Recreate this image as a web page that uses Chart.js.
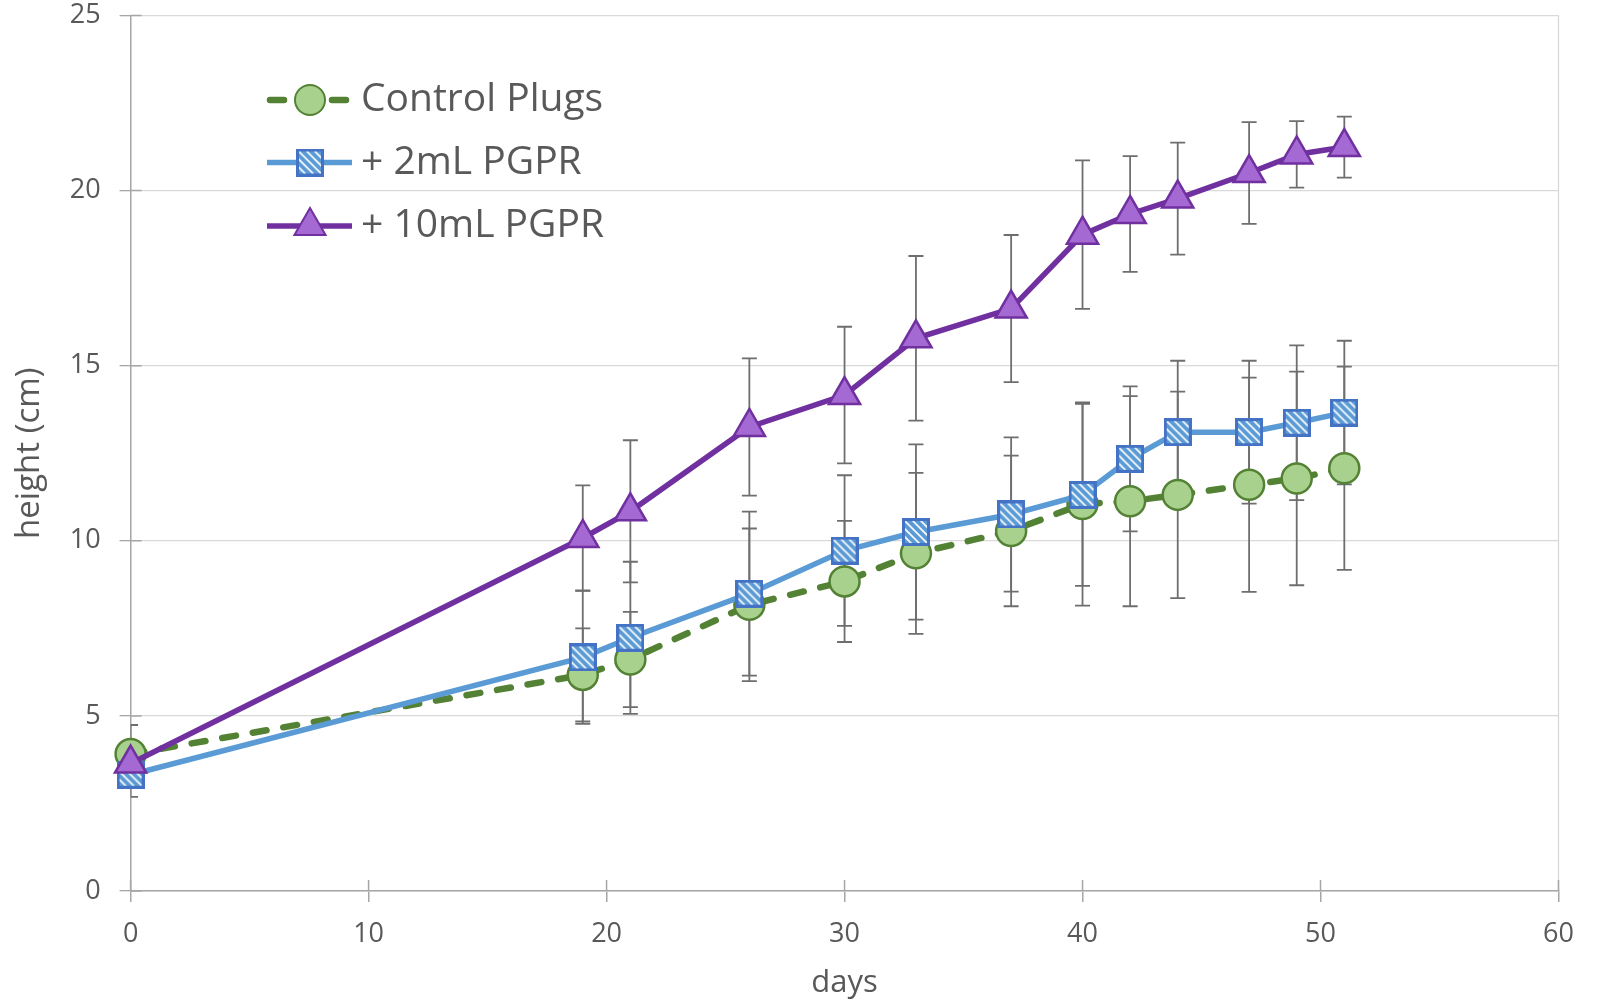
<!DOCTYPE html>
<html>
<head>
<meta charset="utf-8">
<script src="https://cdn.jsdelivr.net/npm/chart.js@4/dist/chart.umd.min.js"></script>
<style>
  html, body { margin: 0; padding: 0; background: #fff; }
  #wrap { width: 1613px; height: 1008px; }
</style>
</head>
<body>
<div id="wrap"><canvas id="chart" width="1613" height="1008"></canvas></div>
<script>
// days of measurement
const days = [0, 19, 21, 26, 30, 33, 37, 40, 42, 44, 47, 49, 51];

// mean height (cm)
const controlPlugs = [3.91, 6.17, 6.61, 8.17, 8.84, 9.64, 10.28, 11.05, 11.13, 11.31, 11.60, 11.78, 12.07];
const pgpr2mL = [3.32, 6.67, 7.23, 8.49, 9.72, 10.25, 10.75, 11.31, 12.34, 13.10, 13.10, 13.37, 13.66];
const pgpr10mL = [3.64, 10.08, 10.84, 13.25, 14.16, 15.78, 16.63, 18.74, 19.33, 19.77, 20.50, 21.03, 21.24];

// error bars (+/-)
const controlErr = [0.83, 1.33, 1.36, 2.18, 1.73, 2.30, 2.15, 2.90, 3.00, 2.95, 3.06, 3.05, 2.90];
const pgpr2mLErr = [0.63, 1.90, 2.17, 2.34, 2.15, 2.50, 2.20, 2.60, 2.07, 2.04, 2.04, 2.21, 2.05];
const pgpr10mLErr = [0.50, 1.50, 2.03, 1.96, 1.95, 2.35, 2.10, 2.12, 1.65, 1.60, 1.45, 0.95, 0.87];

const FONT = '"Open Sans", "Noto Sans", sans-serif';
const TEXT = '#595959';

// hatched square marker for the 2mL series
function hatchedSquare() {
    const s = 28;
    const c = document.createElement('canvas');
    c.width = s; c.height = s;
    const g = c.getContext('2d');
    g.fillStyle = '#fff';
    g.fillRect(0, 0, s, s);
    g.save();
    g.beginPath(); g.rect(1, 1, s - 2, s - 2); g.clip();
    g.strokeStyle = '#5B9BD5';
    g.lineWidth = 4;
    for (let k = -s; k < 2 * s; k += 8) {
        g.beginPath(); g.moveTo(k, 0); g.lineTo(k + s, s); g.stroke();
    }
    g.restore();
    g.strokeStyle = '#4472C4';
    g.lineWidth = 3;
    g.strokeRect(1.5, 1.5, s - 3, s - 3);
    return c;
}
const squareImg = hatchedSquare();

const toPoints = (vals) => vals.map((v, i) => ({x: days[i], y: v}));

const series = [
    {label: 'Control Plugs', data: controlPlugs, err: controlErr, line: '#548235', fill: '#A9D18E',
        width: 6.5, dash: [14, 17], style: 'circle', radius: 15},
    {label: '+ 2mL PGPR', data: pgpr2mL, err: pgpr2mLErr, line: '#5B9BD5', fill: '#fff',
        width: 5.5, dash: [], style: squareImg, radius: 14},
    {label: '+ 10mL PGPR', data: pgpr10mL, err: pgpr10mLErr, line: '#7030A0', fill: '#A469D2',
        width: 5.5, dash: [], style: 'triangle', radius: 18}
];

const errorBarsPlugin = {
    id: 'errorBars',
    beforeDatasetsDraw(chart) {
        const {ctx, chartArea, scales: {x, y}} = chart;
        ctx.save();
        ctx.beginPath();
        ctx.rect(chartArea.left, chartArea.top, chartArea.right - chartArea.left, chartArea.bottom - chartArea.top);
        ctx.clip();
        ctx.strokeStyle = '#6E6E6E';
        ctx.lineWidth = 1.8;
        series.forEach((s) => {
            s.data.forEach((v, i) => {
                const px = x.getPixelForValue(days[i]);
                const top = y.getPixelForValue(v + s.err[i]);
                const bot = y.getPixelForValue(v - s.err[i]);
                ctx.beginPath();
                ctx.moveTo(px, top); ctx.lineTo(px, bot);
                ctx.moveTo(px - 7.5, top); ctx.lineTo(px + 7.5, top);
                ctx.moveTo(px - 7.5, bot); ctx.lineTo(px + 7.5, bot);
                ctx.stroke();
            });
        });
        ctx.restore();
    },
    beforeDraw(chart) {
        // plot area right border
        const {ctx, chartArea} = chart;
        ctx.save();
        ctx.strokeStyle = '#D9D9D9';
        ctx.lineWidth = 1.3;
        ctx.beginPath();
        ctx.moveTo(chartArea.right, chartArea.top);
        ctx.lineTo(chartArea.right, chartArea.bottom);
        ctx.stroke();
        ctx.restore();
    },
    afterDraw(chart) {
        const {ctx, chartArea, scales: {x, y}} = chart;
        ctx.save();
        // inner halves of the cross tick marks
        ctx.strokeStyle = '#A6A6A6';
        ctx.lineWidth = 1.5;
        ctx.beginPath();
        x.ticks.forEach((t) => {
            const px = x.getPixelForValue(t.value);
            ctx.moveTo(px, chartArea.bottom); ctx.lineTo(px, chartArea.bottom - 11);
        });
        y.ticks.forEach((t) => {
            const py = y.getPixelForValue(t.value);
            ctx.moveTo(chartArea.left, py); ctx.lineTo(chartArea.left + 11, py);
        });
        ctx.stroke();

        // legend inside the plot
        const rows = [100, 162.5, 226];
        series.forEach((s, i) => {
            const ry = rows[i];
            ctx.strokeStyle = s.line;
            ctx.lineWidth = s.width;
            ctx.setLineDash(s.dash);
            ctx.lineCap = s.dash.length ? 'round' : 'butt';
            ctx.lineDashOffset = -3;
            ctx.beginPath();
            ctx.moveTo(267, ry); ctx.lineTo(352, ry);
            ctx.stroke();
            ctx.setLineDash([]);
            ctx.fillStyle = s.fill;
            ctx.strokeStyle = s.line;
            ctx.lineWidth = 2;
            Chart.helpers.drawPoint(ctx, {pointStyle: s.style, radius: s.radius, rotation: 0, borderWidth: 2}, 310, ry);
            ctx.fillStyle = TEXT;
            ctx.font = '39px ' + FONT;
            ctx.textBaseline = 'middle';
            ctx.textAlign = 'left';
            ctx.fillText(s.label, 361, ry);
        });
        ctx.restore();
    }
};

const datasets = series.map((s, i) => ({
    label: s.label,
    data: toPoints(s.data),
    borderColor: s.line,
    backgroundColor: s.fill,
    borderWidth: s.width,
    borderDash: s.dash,
    borderCapStyle: s.dash.length ? 'round' : 'butt',
    pointStyle: s.style,
    pointRadius: s.radius,
    pointBorderWidth: 2.5,
    pointBorderColor: s.line,
    pointBackgroundColor: s.fill,
    tension: 0,
    clip: false,
    order: 3 - i
}));

new Chart(document.getElementById('chart'), {
    type: 'line',
    data: {datasets},
    options: {
        responsive: false,
        animation: false,
        events: [],
        layout: {autoPadding: false, padding: {top: 15.4, right: 54.5, bottom: 0, left: 0}},
        plugins: {legend: {display: false}, tooltip: {enabled: false}},
        scales: {
            x: {
                type: 'linear',
                min: 0, max: 60,
                ticks: {stepSize: 10, color: TEXT, font: {family: FONT, size: 27, lineHeight: 1}, padding: 19},
                grid: {drawOnChartArea: false, color: '#A6A6A6', lineWidth: 1.5, tickLength: 11},
                border: {color: '#A6A6A6', width: 1.5},
                title: {display: true, text: 'days', color: TEXT, font: {family: FONT, size: 31}, padding: {top: 0, bottom: 6}},
                afterFit(scale) {
                    scale.height = 117;
                    scale.paddingLeft = 0;
                    scale.paddingRight = 0;
                }
            },
            y: {
                min: 0, max: 25,
                ticks: {stepSize: 5, color: TEXT, font: {family: FONT, size: 27, lineHeight: 1}, padding: 19},
                grid: {color: '#D9D9D9', lineWidth: 1.3, tickColor: '#A6A6A6', tickLength: 11},
                border: {color: '#A6A6A6', width: 1.5},
                title: {display: true, text: 'height (cm)', color: TEXT, font: {family: FONT, size: 33}, padding: {top: 10, bottom: 0}},
                afterFit(scale) {
                    scale.width = 130.6;
                    scale.paddingTop = 0;
                    scale.paddingBottom = 0;
                }
            }
        }
    },
    plugins: [errorBarsPlugin]
});
</script>
</body>
</html>
